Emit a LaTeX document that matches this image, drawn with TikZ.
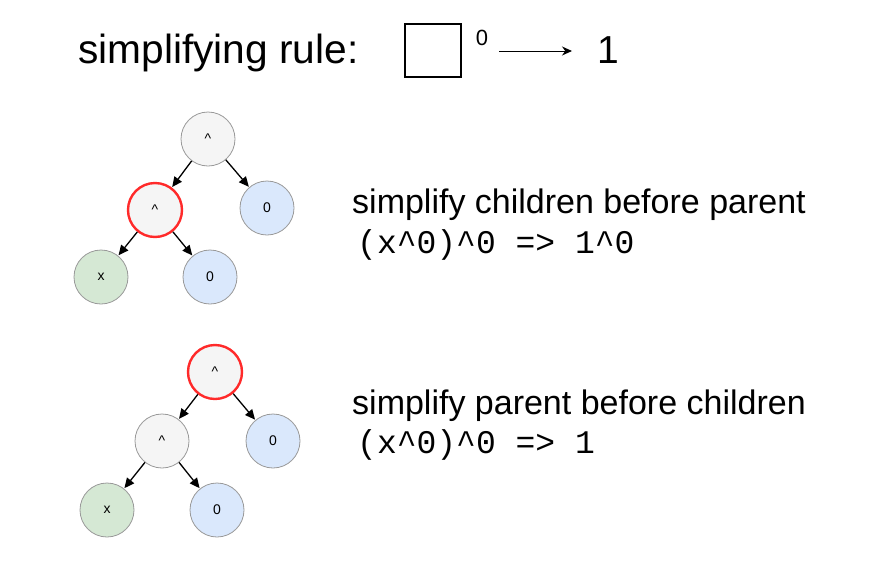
\documentclass[tikz,border=0pt]{standalone}
\usepackage{fontspec}
\setmainfont{Liberation Sans}
\setmonofont{Liberation Mono}
\usetikzlibrary{arrows.meta}
\definecolor{opfill}{HTML}{F5F5F5}
\definecolor{zerofill}{HTML}{DAE8FC}
\definecolor{xfill}{HTML}{D5E8D4}
\definecolor{nodeline}{HTML}{999999}
\definecolor{hl}{HTML}{FF2A2A}
\tikzset{
  tn/.style={circle, minimum size=54pt, inner sep=0pt, draw=nodeline, line width=0.8pt, font=\fontsize{14}{14}\selectfont},
  opn/.style={tn, fill=opfill},
  zn/.style={tn, fill=zerofill},
  xn/.style={tn, fill=xfill},
  hot/.style={draw=hl, line width=2.4pt},
  edge/.style={-{Triangle[length=10pt,width=9pt]}, line width=1.3pt, shorten >=0.5pt},
  big/.style={anchor=base west, inner sep=0pt, font=\fontsize{40.7}{40.7}\selectfont},
  mid/.style={anchor=base west, inner sep=0pt, font=\fontsize{34}{34}\selectfont},
  code/.style={anchor=base west, inner sep=0pt, font=\ttfamily\fontsize{33}{33}\selectfont},
}
\begin{document}
\begin{tikzpicture}[x=1pt,y=-1pt]
\useasboundingbox (0,0) rectangle (880,584);
% title row
\node[big] (title) at (78,63) {simplifying rule:};
\node[draw, line width=1.4pt, minimum width=56pt, minimum height=53pt, inner sep=0pt] (box) at (433,50.5) {};
\node[font=\fontsize{22}{22}\selectfont, inner sep=0pt] (sup) at (482,38) {0};
\coordinate (arS) at (499,51);
\coordinate (arE) at (572,51);
\draw[-{Stealth[length=10pt,width=9pt]}, line width=1pt] (arS) -- (arE);
\node[font=\fontsize{39}{39}\selectfont, inner sep=0pt] (one) at (608,50) {1};
% tree 1
\node[opn] (r1) at (208,139) {\textasciicircum};
\node[opn, hot] (a1) at (155,210) {\textasciicircum};
\node[zn] (z1) at (267,208) {0};
\node[xn] (x1) at (101,277) {x};
\node[zn] (w1) at (210,277) {0};
\draw[edge] (r1) -- (a1);
\draw[edge] (r1) -- (z1);
\draw[edge] (a1) -- (x1);
\draw[edge] (a1) -- (w1);
\node[mid] (t1) at (352,213) {simplify children before parent};
\node[code] (c1) at (357,253) {(x\textasciicircum 0)\textasciicircum 0 => 1\textasciicircum 0};
% tree 2
\node[opn, hot] (r2) at (215,372) {\textasciicircum};
\node[opn] (a2) at (162,441) {\textasciicircum};
\node[zn] (z2) at (273,441) {0};
\node[xn] (x2) at (107,510) {x};
\node[zn] (w2) at (217,510) {0};
\draw[edge] (r2) -- (a2);
\draw[edge] (r2) -- (z2);
\draw[edge] (a2) -- (x2);
\draw[edge] (a2) -- (w2);
\node[mid] (t2) at (352,414) {simplify parent before children};
\node[code] (c2) at (357,453) {(x\textasciicircum 0)\textasciicircum 0 => 1};
\end{tikzpicture}
\end{document}
